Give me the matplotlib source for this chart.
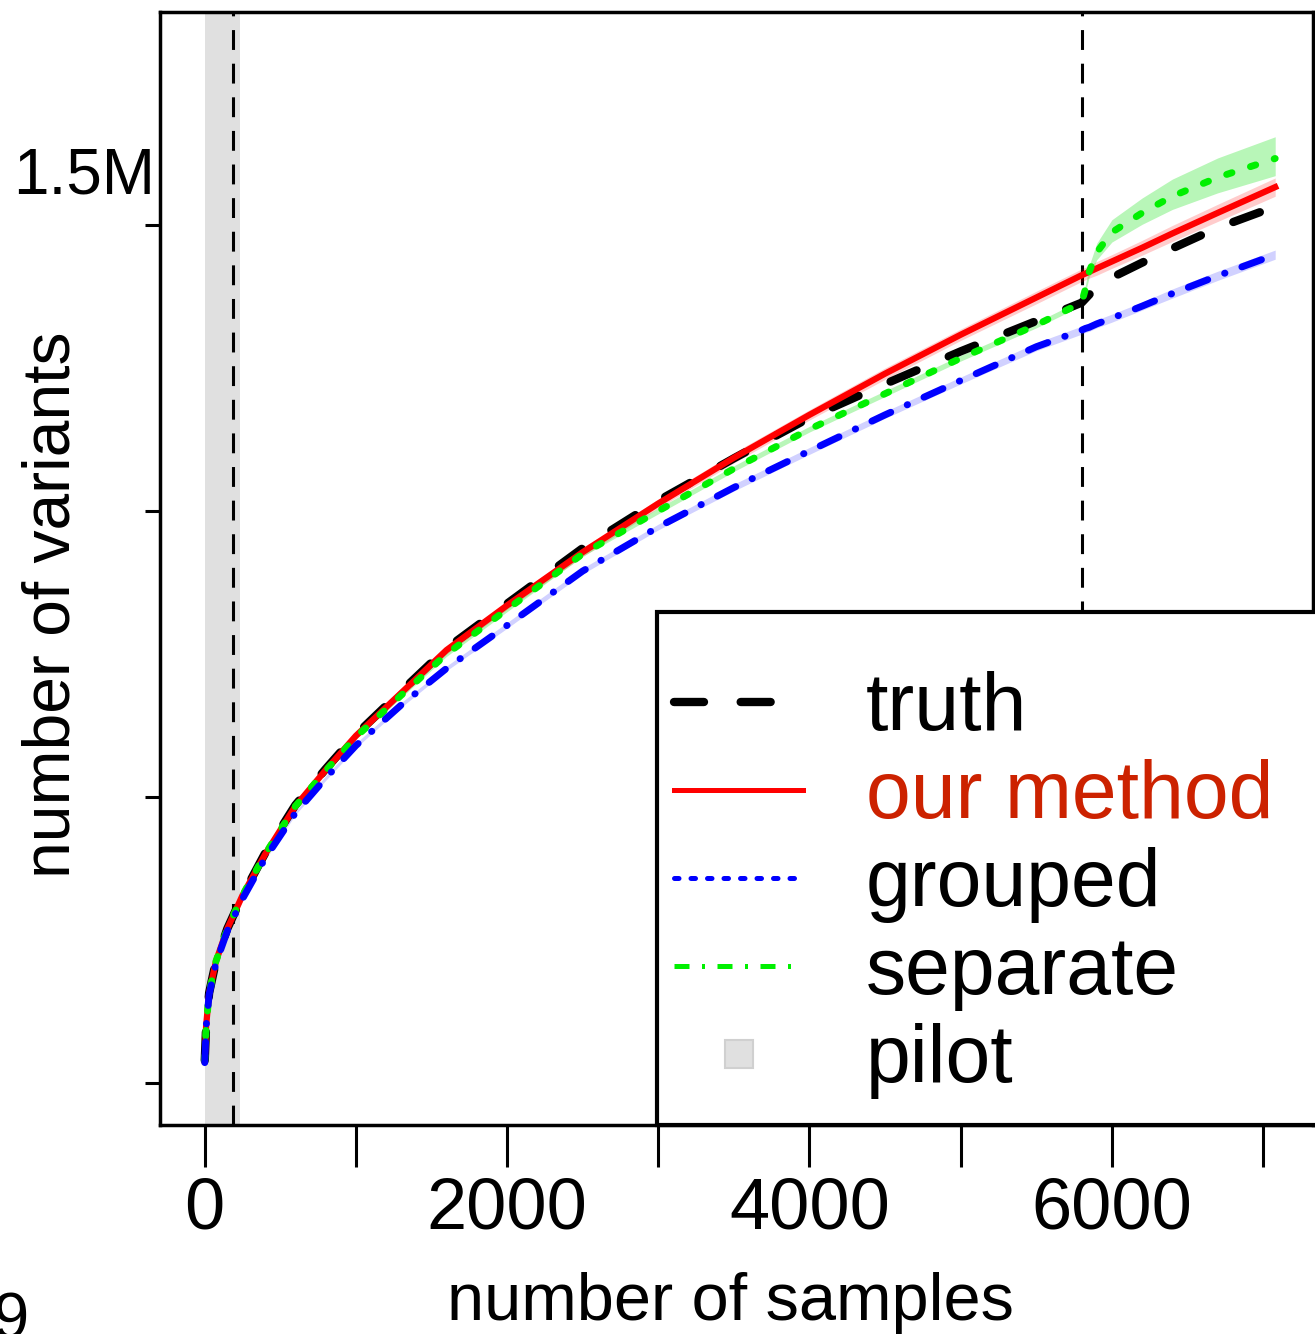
import numpy as np
import matplotlib

matplotlib.use('Agg')
from matplotlib import pyplot as plt
from matplotlib.lines import Line2D
from matplotlib.patches import Rectangle

plt.rcParams['font.family'] = ['Liberation Sans', 'DejaVu Sans']

# number of samples (x grid shared by all curves)
n_samples = [1, 10, 30, 75, 150, 250, 400, 600, 800, 1000, 1300, 1600, 2000, 2500, 3000,
             3500, 4000, 4500, 5000, 5500, 5800, 5825, 5850, 5900, 6000, 6200, 6400, 6700, 7080]

# number of variants, in thousands
truth = [40, 100, 158, 213, 270, 328, 402, 486, 549, 609, 685, 760, 838, 935, 1018,
         1092, 1163, 1222, 1279, 1332, 1364, 1371, 1378, 1392, 1408, 1434, 1459, 1495, 1532]
our_method = [40, 100, 158, 213, 270, 328, 400, 484, 547, 607, 682, 757, 835, 928, 1013,
              1093, 1168, 1240, 1308, 1373, 1412, 1415, 1418, 1424, 1436, 1460, 1485, 1521, 1566]
grouped = [36, 98, 155, 210, 266, 322, 393, 472, 533, 590, 661, 725, 800, 895, 972,
           1041, 1105, 1168, 1228, 1287, 1316, 1319, 1321, 1327, 1337, 1358, 1380, 1411, 1448]
separate = [39, 100, 158, 213, 270, 328, 400, 484, 546, 605, 678, 750, 828, 925, 1000,
            1074, 1143, 1205, 1267, 1325, 1364, 1388, 1418, 1452, 1487, 1521, 1550, 1583, 1616]

# band widths (thousands)
our_hw = [1, 2, 2, 3, 3, 4, 4, 5, 5, 6, 6, 7, 7, 8, 8, 9, 9, 10, 10, 11, 11, 11, 11, 12, 12, 13, 14, 15, 16]
grouped_hw = [1, 1, 2, 2, 2, 3, 3, 3, 4, 4, 4, 4, 5, 5, 5, 6, 6, 6, 6, 7, 7, 7, 7, 7, 7, 7, 8, 8, 8]
separate_lo = [1, 1, 2, 2, 2, 3, 3, 3, 3, 4, 4, 4, 4, 4, 5, 5, 5, 5, 5, 5, 5, 6, 9, 13, 17, 20, 23, 27, 30]
separate_hi = [1, 1, 2, 2, 2, 3, 3, 3, 3, 4, 4, 4, 4, 4, 5, 5, 5, 5, 5, 5, 5, 7, 11, 16, 22, 26, 30, 34, 38]

pilot_line = 185
pilot_band = 235
split_at = 5800

x_ticks = [0, 1000, 2000, 3000, 4000, 5000, 6000, 7000]
x_tick_labels = ['0', '', '2000', '', '4000', '', '6000', '']
y_ticks = [0, 500e3, 1000e3, 1500e3]

x = np.asarray(n_samples)
k = 1000.0
t = np.asarray(truth) * k
r = np.asarray(our_method) * k
b = np.asarray(grouped) * k
g = np.asarray(separate) * k

fig = plt.figure(figsize=(13.15, 13.34), dpi=100)
ax = fig.add_axes([160 / 1315, 209 / 1334, 1153 / 1315, 1113 / 1334])

ax.axvspan(0, pilot_band, color='#e0e0e0', lw=0, zorder=0)
ax.axvline(pilot_line, color='black', lw=2.2, dashes=(6.5, 4.5), zorder=1)
ax.axvline(split_at, color='black', lw=2.2, dashes=(6.5, 4.5), zorder=1)

ax.fill_between(x, r - np.asarray(our_hw) * k, r + np.asarray(our_hw) * k,
                color='red', alpha=0.2, lw=0, zorder=2)
ax.fill_between(x, b - np.asarray(grouped_hw) * k, b + np.asarray(grouped_hw) * k,
                color='blue', alpha=0.18, lw=0, zorder=2)
ax.fill_between(x, g - np.asarray(separate_lo) * k, g + np.asarray(separate_hi) * k,
                color='#00e000', alpha=0.28, lw=0, zorder=2)

ax.plot(x, t, color='black', lw=6, dashes=(3.4, 4.2), dash_capstyle='round', zorder=3)
ax.plot(x, r, color='red', lw=4.5, zorder=4)
ax.plot(x, g, color='#00f000', lw=5, dashes=(0.8, 2.8), dash_capstyle='round', zorder=5)
ax.plot(x, b, color='blue', lw=5, dashes=(3.0, 2.6, 0.05, 2.6), dash_capstyle='round', zorder=6)

ax.set_xlim(-295, 7330)
ax.set_ylim(-73e3, 1872e3)
ax.set_xticks(x_ticks)
ax.set_xticklabels(x_tick_labels)
ax.set_yticks(y_ticks)
ax.set_yticklabels(['', '', '', ''])
ax.tick_params(axis='x', length=30, width=2.2, labelsize=52, pad=7)
ax.tick_params(axis='y', length=11, width=2.2)
for s in ax.spines.values():
    s.set_linewidth(2.5)

ax.text(-0.004, 1585e3, '1.5M', transform=ax.get_yaxis_transform(),
        ha='right', va='center', fontsize=46)

ax.set_ylabel('number of variants', fontsize=47.5, va='center')
ax.yaxis.set_label_coords(-0.093, 0.467)
ax.set_xlabel('number of samples', fontsize=48, va='center')
ax.xaxis.set_label_coords(0.495, -0.16)

# legend box
box = Rectangle((0.431, 0), 0.7, 0.461, transform=ax.transAxes, facecolor='white',
                edgecolor='black', lw=3, zorder=10, clip_on=False)
ax.add_patch(box)

handles = [
    Line2D([], [], color='black', lw=6, dashes=(3.6, 4.4), dash_capstyle='round'),
    Line2D([], [], color='red', lw=3.6),
    Line2D([], [], color='blue', lw=3.6, dashes=(0.9, 2.4), dash_capstyle='round'),
    Line2D([], [], color='#00f000', lw=3.6, dashes=(3, 2.5, 0.6, 2.5)),
    Line2D([], [], marker='s', ls='none', markersize=20, markerfacecolor='#e0e0e0',
           markeredgecolor='#d0d0d0', mew=1.5),
]
labels = ['truth', 'our method', 'grouped', 'separate', 'pilot']
leg = ax.legend(handles, labels, loc='upper left', bbox_to_anchor=(0.446, 0.408),
                frameon=False, borderpad=0, borderaxespad=0, handlelength=1.6,
                handletextpad=0.78, labelspacing=0.15, fontsize=58)
leg.set_zorder(11)
leg.get_texts()[1].set_color('#cc2200')

fig.text(-0.005, 0.032, '9', ha='left', va='top', fontsize=47)

fig.savefig('out.png', dpi=100)
